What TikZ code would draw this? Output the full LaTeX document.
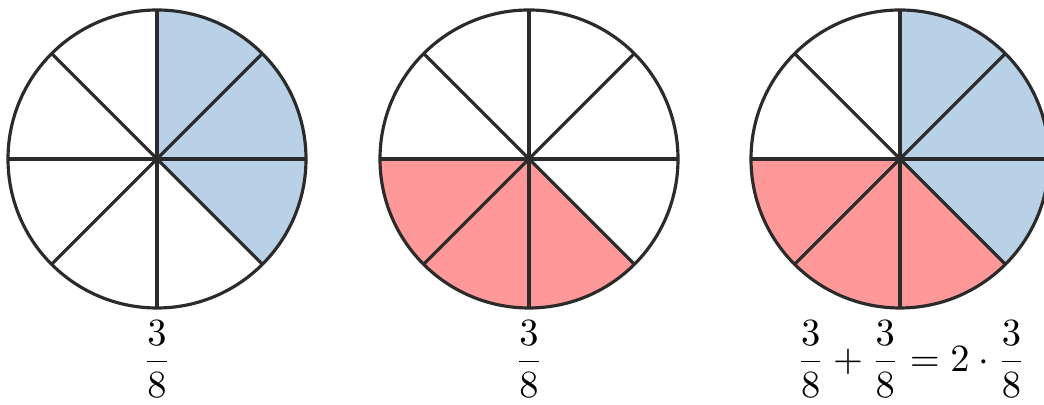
\documentclass[tikz,border=0pt]{standalone}
\usepackage{xcolor}
\usepackage{tikz}
\definecolor{sliceblue}{HTML}{B9D1E6}
\definecolor{slicered}{HTML}{FF9898}
\definecolor{rimgray}{HTML}{2B2B2B}

\begin{document}
\begin{tikzpicture}[
  rim/.style={draw=rimgray, line width=0.9pt},
  spoke/.style={draw=rimgray, line width=0.9pt},
  label/.style={font=\fontsize{11}{13}\selectfont, inner sep=0pt}
]
\useasboundingbox (0,0) rectangle (10.44,4.05);
\def\rad{1.49}

% centres of the three pies
\coordinate (c1) at (1.57, 2.46);
\coordinate (c2) at (5.29, 2.46);
\coordinate (c3) at (9.00, 2.46);

% shaded slices
\fill[sliceblue] (c1) -- ++(90:\rad) arc (90:-45:\rad) -- cycle;
\fill[slicered] (c2) -- ++(180:\rad) arc (180:315:\rad) -- cycle;
\fill[sliceblue] (c3) -- ++(90:\rad) arc (90:-45:\rad) -- cycle;
\fill[slicered] (c3) -- ++(180:\rad) arc (180:315:\rad) -- cycle;

% rims and spokes
\foreach \c in {c1, c2, c3} {
  \draw[rim] (\c) circle (\rad);
  \foreach \a in {0,45,...,315}
    \draw[spoke] (\c) -- ++(\a:\rad);
}

% fractions
\node[label] (f1) at (1.57, 0.46) {$\displaystyle\frac{3}{8}$};
\node[label] (f2) at (5.29, 0.46) {$\displaystyle\frac{3}{8}$};
\node[label] (f3) at (9.11, 0.46) {$\displaystyle\frac{3}{8}+\frac{3}{8}=2\cdot\frac{3}{8}$};

\end{tikzpicture}
\end{document}
